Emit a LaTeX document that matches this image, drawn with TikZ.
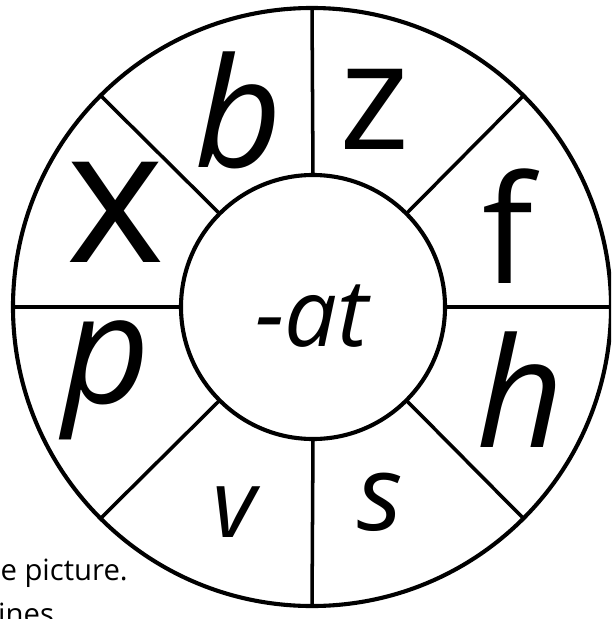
\documentclass[tikz,border=0pt]{standalone}
\usepackage{fontspec}
\setmainfont{Open Sans}
\usetikzlibrary{positioning}

\begin{document}
\begin{tikzpicture}[
    x=0.03cm, y=-0.03cm,
    wheel/.style={
        draw, circle, line width=3.5pt, inner sep=0pt, outer sep=0pt
    },
    spoke/.style={line width=3pt},
    onset/.style={inner sep=0pt, font=\fontsize{#1}{#1}\selectfont\itshape},
    onset/.default=130,
    plainonset/.style={inner sep=0pt, font=\fontsize{#1}{#1}\selectfont},
    note/.style={inner sep=0pt, font=\fontsize{25}{25}\selectfont}
]

\useasboundingbox (0,0) rectangle (611,619);
\clip (0,0) rectangle (611,619);

% -------------------------
% Wheel
% -------------------------

% Rim (outer circle)
\node[wheel, minimum size=17.94cm] (rim) at (312, 307) {};

% Hub (inner circle) with the word ending
\node[wheel, minimum size=7.92cm] (hub) at (313, 307) {};
\node[onset=80] (ending) at (312, 316) {-at};

% Spokes between hub and rim
\foreach \a in {0,45,...,315}
    \draw[spoke] (hub.\a) -- (rim.\a);

% -------------------------
% Onset letters (clockwise from top)
% -------------------------
\node[plainonset=128] (zz) at (375, 109) {z};
\node[plainonset=128] (ff) at (508, 226) {f};
\node[onset] (hh) at (520, 390) {h};
\node[onset=90] (ss) at (380, 502) {s};
\node[onset=81] (vv) at (234, 512) {v};
\node[onset] (pp) at (106, 380) {p};
\node[plainonset=160] (xx) at (116, 212) {x};
\node[onset] (bb) at (238, 110) {b};

% -------------------------
% Cut-off worksheet text
% -------------------------
\node[note, anchor=base east] (line1) at (128, 580) {e picture.};
\node[note, anchor=base west] (line2) at (-2, 624) {ines};

\end{tikzpicture}
\end{document}
